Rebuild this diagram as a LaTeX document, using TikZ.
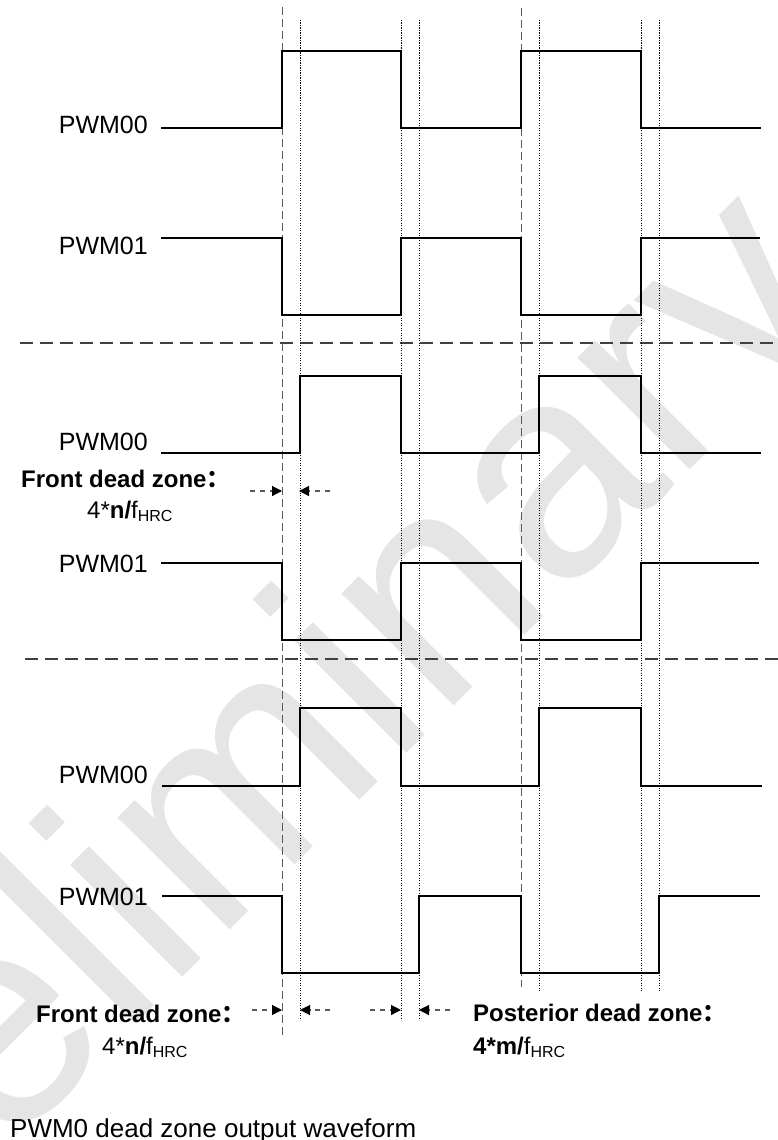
\documentclass[tikz,border=0pt]{standalone}
\usepackage{fontspec}
\setmainfont{Liberation Sans}
\newfontfamily\cjk{Noto Sans CJK SC}
\usetikzlibrary{arrows.meta}
\newcommand{\fhrc}{f\raisebox{-3pt}{\fontsize{16}{16}\selectfont\mdseries HRC}}

\begin{document}
\begin{tikzpicture}[
  x=1pt, y=-1pt,
  sig/.style={anchor=base east, inner sep=0pt, font=\fontsize{25}{30}\selectfont},
  note/.style={anchor=base west, inner sep=0pt, font=\fontsize{24}{28}\selectfont},
  wave/.style={line width=2.6pt, line join=miter},
  guide/.style={black!65, line width=0.9pt, dash pattern=on 8pt off 4pt},
  edge/.style={black, line width=0.9pt, dash pattern=on 1.2pt off 1.3pt},
  sep/.style={black!75, line width=1.4pt, dash pattern=on 13pt off 7pt},
  dz/.style={-{Triangle[length=10pt,width=10pt,color=black]}, black!65, line width=1.2pt, dash pattern=on 5pt off 5pt}
]
  \useasboundingbox (0,0) rectangle (778,1140);
  \node[text=black!10, rotate=45, inner sep=0pt, font=\fontsize{300}{300}\selectfont] (wm) at (267,783) {Preliminary};

  \draw[sep] (20,343) -- (778,343);
  \draw[sep] (25,659) -- (778,659);

  \draw[guide] (282,7) -- (282,1037);
  \draw[guide] (521,8) -- (521,987);
  \foreach \x/\e in {300/1020, 401/1020, 419/1020, 539/992, 641/992, 659/992}
    \draw[edge] (\x,20) -- (\x,\e);

  \draw[wave] (161,128) -| (282,51) -| (401,128) -| (521,51) -| (641,128) -- (761,128);
  \draw[wave] (161,238) -| (282,315) -| (401,238) -| (521,315) -| (641,238) -- (760,238);
  \draw[wave] (161,453) -| (300,376) -| (401,453) -| (539,376) -| (641,453) -- (761,453);
  \draw[wave] (161,563) -| (282,640) -| (401,563) -| (521,640) -| (641,563) -- (759,563);
  \draw[wave] (162,786) -| (300,708) -| (401,786) -| (539,708) -| (641,786) -- (762,786);
  \draw[wave] (162,896) -| (282,973) -| (419,896) -| (521,973) -| (659,896) -- (760,896);

  \node[sig] (s1) at (148,133) {PWM00};
  \node[sig] (s2) at (148,254) {PWM01};
  \node[sig] (s3) at (148,450) {PWM00};
  \node[sig] (s4) at (148,572) {PWM01};
  \node[sig] (s5) at (148,783) {PWM00};
  \node[sig] (s6) at (148,905) {PWM01};

  \node[note] (front1) at (21,487) {\bfseries Front dead zone{\cjk ：}};
  \node[note] (n1) at (87,518) {4*\textbf{n/}\fhrc};
  \node[note] (front2) at (36,1022) {\bfseries Front dead zone{\cjk ：}};
  \node[note] (n2) at (102,1054) {4*\textbf{n/}\fhrc};
  \node[note] (post) at (473,1021) {\bfseries Posterior dead zone{\cjk ：}};
  \node[note] (m1) at (473,1054) {\textbf{4*m/}\fhrc};
  \node[anchor=base west, inner sep=0pt, font=\fontsize{26}{30}\selectfont] (cap) at (10,1137) {PWM0 dead zone output waveform};

  \foreach \n/\x/\y in {t1/250/491, h1/282/491, t2/330/491, h2/299/491,
      t3/252/1010, h3/282/1010, t4/330/1010, h4/300/1010,
      t5/370/1010, h5/401/1010, t6/450/1010, h6/419/1010}
    \coordinate (\n) at (\x,\y);
  \draw[dz] (t1) -- (h1);
  \draw[dz] (t2) -- (h2);
  \draw[dz] (t3) -- (h3);
  \draw[dz] (t4) -- (h4);
  \draw[dz] (t5) -- (h5);
  \draw[dz] (t6) -- (h6);
\end{tikzpicture}
\end{document}
